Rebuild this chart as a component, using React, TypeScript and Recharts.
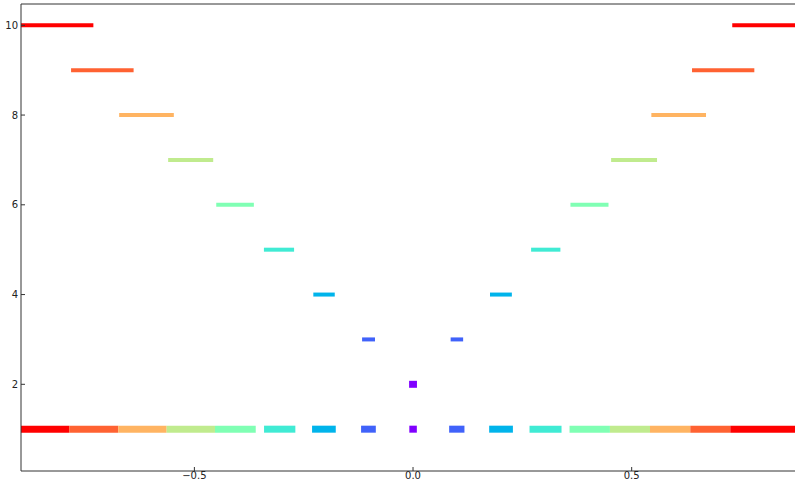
import React from 'react';
import { ComposedChart, Line, XAxis, YAxis } from 'recharts';

// y levels of the paired segments (top to bottom)
const levels = [10, 9, 8, 7, 6, 5, 4, 3, 2];
// rainbow colormap colours per level
const colors = ['#ff0000', '#ff6232', '#ffb462', '#c0eb8e', '#80ffb4', '#40ebd4', '#00b4eb', '#4062fa', '#8000ff'];
// left-hand segment extents
const leftStart = [-0.9, -0.782, -0.672, -0.56, -0.45, -0.341, -0.228, -0.1165, -0.009];
const leftEnd = [-0.731, -0.639, -0.547, -0.457, -0.364, -0.272, -0.179, -0.087, 0.009];
// right-hand segment extents (level 2 has a single centred segment)
const rightStart = [0.73, 0.638, 0.545, 0.453, 0.36, 0.27, 0.176, 0.086, null];
const rightEnd = [0.9, 0.7805, 0.67, 0.558, 0.447, 0.337, 0.226, 0.1146, null];

// bottom summary row at level 1: visible colour blocks, left to right
const baseLevel = 1;
const baseColorIdx = [0, 1, 2, 3, 4, 5, 6, 7, 8, 7, 6, 5, 4, 3, 2, 1, 0];
const baseStart = [-0.9, -0.7863, -0.6741, -0.5634, -0.4529, -0.3407, -0.2309, -0.1188, -0.0085, 0.0826, 0.1741, 0.2664, 0.3579, 0.4503, 0.5419, 0.6341, 0.7256];
const baseEnd = [-0.7863, -0.6741, -0.5634, -0.4529, -0.3597, -0.2691, -0.1767, -0.0851, 0.0087, 0.1176, 0.2284, 0.3396, 0.4503, 0.5419, 0.6341, 0.7256, 0.9];

const xTicks = [-0.5, 0, 0.5];
const yTicks = [2, 4, 6, 8, 10];
const xDomain = [-0.8965, 0.8735];
const yDomain = [0.068, 10.475];

type Seg = { a: number; b: number; y: number; color: string; thick: boolean };

const segs: Seg[] = [];
levels.forEach((lv, i) => {
  segs.push({ a: leftStart[i], b: leftEnd[i], y: lv, color: colors[i], thick: lv === 2 });
  if (rightStart[i] != null && rightEnd[i] != null) {
    segs.push({ a: rightStart[i] as number, b: rightEnd[i] as number, y: lv, color: colors[i], thick: false });
  }
});
baseColorIdx.forEach((ci, k) => {
  segs.push({ a: baseStart[k], b: baseEnd[k], y: baseLevel, color: colors[ci], thick: true });
});

const fmtX = (v: number) => v.toFixed(1).replace('-', '\u2212');
const tickStyle = { fontFamily: 'DejaVu Sans', fontSize: 10, fill: '#222' };
const axisStroke = { stroke: '#333', strokeWidth: 1 };

export default function App() {
  return (
    <div style={{ position: 'absolute', left: 0, top: 0, width: 795, height: 486, overflow: 'hidden', background: '#fff' }}>
      <ComposedChart width={795} height={486} margin={{ top: 3, right: 0, bottom: 0, left: 0 }}>
        <XAxis
          xAxisId={0}
          dataKey="x"
          type="number"
          domain={xDomain}
          allowDataOverflow
          ticks={xTicks}
          tickFormatter={fmtX}
          height={15}
          tickSize={-4}
          tickMargin={5}
          tick={tickStyle}
          axisLine={axisStroke}
          tickLine={axisStroke}
        />
        <XAxis
          xAxisId="top"
          orientation="top"
          dataKey="x"
          type="number"
          domain={xDomain}
          allowDataOverflow
          ticks={xTicks}
          height={1}
          tickSize={-4}
          tick={false}
          axisLine={axisStroke}
          tickLine={axisStroke}
        />
        <YAxis
          dataKey="y"
          type="number"
          domain={yDomain}
          allowDataOverflow
          ticks={yTicks}
          width={21}
          tickSize={-4}
          tickMargin={7}
          tick={tickStyle}
          axisLine={axisStroke}
          tickLine={axisStroke}
        />
        {segs.map((s, k) => (
          <Line
            key={k}
            data={[{ x: s.a, y: s.y }, { x: s.b, y: s.y }]}
            dataKey="y"
            type="linear"
            stroke={s.color}
            strokeWidth={s.thick ? 7 : 4}
            strokeLinecap="butt"
            dot={false}
            activeDot={false}
            isAnimationActive={false}
          />
        ))}
      </ComposedChart>
    </div>
  );
}
